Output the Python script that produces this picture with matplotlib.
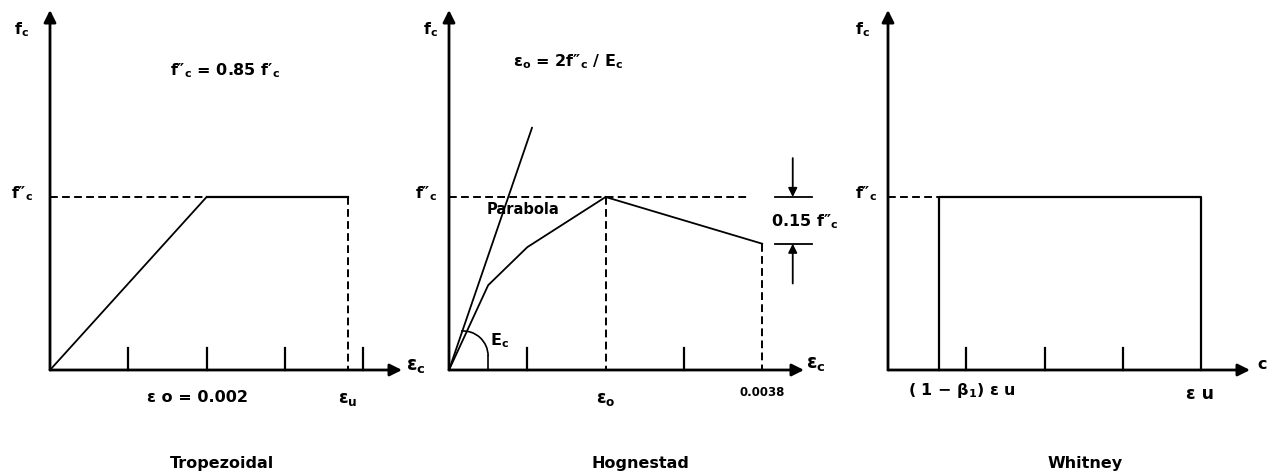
import numpy as np
import matplotlib
matplotlib.use("Agg")
import matplotlib.pyplot as plt
from matplotlib.patches import Arc

### strain in units of 0.001, stress normalised by f''c
W, H = 1279, 476
sx, sy = 78.3, 173.0      # px per unit
yorig = 370               # px row of the strain axis

### Tropezoidal
trap_rise_eps = [0, 2.0]
trap_rise_f   = [0, 1.0]
trap_flat_eps = [2.0, 3.8]
trap_eu = 3.8
trap_ticks = [1, 2, 3, 4]

### Hognestad
hog_tan_eps = [0, 1.06]
hog_tan_f   = [0, 1.40]
hog_par_eps = [0, 0.5, 1.0, 2.0]
hog_par_f   = [0, 0.49, 0.71, 1.0]
hog_fall_eps = [2.0, 4.0]
hog_fall_f   = [1.0, 0.73]
hog_eo = 2.0
hog_eu = 4.0
hog_ticks = [1, 3]

### Whitney
whit_a  = 0.65
whit_eu = 4.0
whit_ticks = [1, 2, 3]

plt.rcParams['font.weight'] = 'bold'
fs = 11.5
K = 'k'
lw_ax = 2.0
lw = 1.3
dash = (4, 2.2)

FC  = "f$_\\mathregular{c}$"
FPP = "f\u2033$_\\mathregular{c}$"
FP  = "f\u2032$_\\mathregular{c}$"

fig = plt.figure(figsize=(W/100, H/100), dpi=100)
fig.patch.set_facecolor('white')


def make_ax(x0, xtip):
    ax = fig.add_axes([(x0-45)/W, 0, 420/W, 1])
    ax.set_xlim(-45/sx, 375/sx)
    ax.set_ylim(-(H-yorig)/sy, yorig/sy)
    ax.axis('off')
    # axes with arrows
    ax.annotate("", xy=(0, (yorig-10)/sy), xytext=(0, 0),
                arrowprops=dict(arrowstyle='-|>', lw=lw_ax, color=K, mutation_scale=18,
                                shrinkA=0, shrinkB=0), annotation_clip=False)
    ax.annotate("", xy=((xtip-x0)/sx, 0), xytext=(0, 0),
                arrowprops=dict(arrowstyle='-|>', lw=lw_ax, color=K, mutation_scale=18,
                                shrinkA=0, shrinkB=0), annotation_clip=False)
    return ax


def ticks(ax, xs, h=0.127):
    for t in xs:
        ax.plot([t, t], [0, h], color=K, lw=1.6, clip_on=False)


#### panel 1
ax1 = make_ax(50, 402)
ticks(ax1, trap_ticks)
ax1.plot(trap_rise_eps, trap_rise_f, color=K, lw=lw)
ax1.plot(trap_flat_eps, [1.0, 1.0], color=K, lw=1.6)
ax1.plot([0, trap_rise_eps[-1]], [1.0, 1.0], color=K, lw=1.4, dashes=dash)
ax1.plot([trap_eu, trap_eu], [1.0, 0], color=K, lw=1.4, dashes=dash)
ax1.text(-0.36, 1.97, FC, fontsize=fs, ha='center', va='center')
ax1.text(-0.36, 1.02, FPP, fontsize=fs, ha='center', va='center')
ax1.text(2.24, 1.73, FPP + " = 0.85 " + FP, fontsize=fs, ha='center', va='center')
ax1.text(1.88, -0.16, "\u03b5 o = 0.002", fontsize=fs, ha='center', va='center')
ax1.text(3.8, -0.17, "\u03b5$_\\mathregular{u}$", fontsize=fs+1, ha='center', va='center')
ax1.text(4.55, 0.02, "\u03b5$_\\mathregular{c}$", fontsize=fs+2, ha='left', va='center')
ax1.text(2.2, -0.54, "Tropezoidal", fontsize=fs, ha='center', va='center')

#### panel 2
ax2 = make_ax(449, 804)
ticks(ax2, hog_ticks)
ax2.plot(hog_tan_eps, hog_tan_f, color=K, lw=lw)
ax2.plot(hog_par_eps, hog_par_f, color=K, lw=lw)
ax2.plot(hog_fall_eps, hog_fall_f, color=K, lw=lw)
ax2.plot([0, 3.82], [1.0, 1.0], color=K, lw=1.4, dashes=dash)
ax2.plot([hog_eo, hog_eo], [1.0, 0], color=K, lw=1.4, dashes=dash)
ax2.plot([hog_eu, hog_eu], [hog_fall_f[-1], 0], color=K, lw=1.4, dashes=dash)
# Ec arc
ax2.add_patch(Arc((0.18, 0.081), 2*25/sx, 2*25/sy, theta1=0, theta2=100, color=K, lw=1.2))
ax2.plot([0.5, 0.5], [0, 0.081], color=K, lw=1.2)
# 0.15 f''c dimension
ax2.plot([4.16, 4.63], [1.0, 1.0], color=K, lw=1.3, clip_on=False)
ax2.plot([4.16, 4.63], [hog_fall_f[-1], hog_fall_f[-1]], color=K, lw=1.3, clip_on=False)
ax2.annotate("", xy=(4.39, 1.0), xytext=(4.39, 1.225),
             arrowprops=dict(arrowstyle='-|>', lw=1.3, color=K, mutation_scale=13,
                             shrinkA=0, shrinkB=0), annotation_clip=False)
ax2.annotate("", xy=(4.39, hog_fall_f[-1]), xytext=(4.39, 0.50),
             arrowprops=dict(arrowstyle='-|>', lw=1.3, color=K, mutation_scale=13,
                             shrinkA=0, shrinkB=0), annotation_clip=False)
ax2.text(-0.24, 1.97, FC, fontsize=fs, ha='center', va='center')
ax2.text(-0.29, 1.02, FPP, fontsize=fs, ha='center', va='center')
ax2.text(1.52, 1.78, "\u03b5$_\\mathregular{o}$ = 2" + FPP + " / E$_\\mathregular{c}$",
         fontsize=fs, ha='center', va='center')
ax2.text(0.95, 0.93, "Parabola", fontsize=fs-1, ha='center', va='center')
ax2.text(0.65, 0.17, "E$_\\mathregular{c}$", fontsize=fs, ha='center', va='center')
ax2.text(hog_eo, -0.17, "\u03b5$_\\mathregular{o}$", fontsize=fs+1, ha='center', va='center')
ax2.text(hog_eu, -0.13, "0.0038", fontsize=8.5, ha='center', va='center')
ax2.text(4.56, 0.03, "\u03b5$_\\mathregular{c}$", fontsize=fs+2, ha='left', va='center')
ax2.text(4.54, 0.86, "0.15 " + FPP, fontsize=fs, ha='center', va='center')
ax2.text(2.44, -0.54, "Hognestad", fontsize=fs, ha='center', va='center')

#### panel 3
ax3 = make_ax(888, 1250)
ticks(ax3, whit_ticks, h=0.13)
ax3.plot([whit_a, whit_a, whit_eu, whit_eu], [0, 1.0, 1.0, 0], color=K, lw=1.6)
ax3.plot([0, whit_a], [1.0, 1.0], color=K, lw=1.4, dashes=dash)
ax3.text(-0.33, 1.97, FC, fontsize=fs, ha='center', va='center')
ax3.text(-0.28, 1.02, FPP, fontsize=fs, ha='center', va='center')
ax3.text(4.72, 0.03, "c", fontsize=fs, ha='left', va='center')
ax3.text(0.95, -0.12, "( 1 \u2212 \u03b2$_\\mathregular{1}$) \u03b5 u", fontsize=fs, ha='center', va='center')
ax3.text(3.98, -0.14, "\u03b5 u", fontsize=fs+1, ha='center', va='center')
ax3.text(2.52, -0.54, "Whitney", fontsize=fs, ha='center', va='center')

fig.savefig("out.png", dpi=100, facecolor='white')
